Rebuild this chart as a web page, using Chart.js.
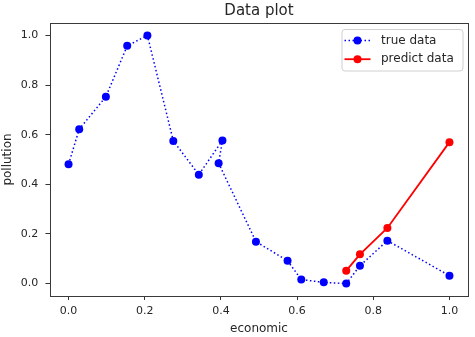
<!DOCTYPE html>
<html>
<head>
<meta charset="utf-8">
<script src="https://cdn.jsdelivr.net/npm/chart.js@4"></script>
<style>
  html, body { margin: 0; padding: 0; background: #ffffff; }
  #wrap { width: 475px; height: 337px; }
</style>
</head>
<body>
<div id="wrap"><canvas id="plot" width="475" height="337"></canvas></div>
<script>
// Observed samples (normalised economic vs pollution)
const economicTrue  = [0, 0.028, 0.098, 0.154, 0.207, 0.275, 0.342, 0.404, 0.394, 0.492, 0.575, 0.611, 0.670, 0.729, 0.765, 0.837, 1.0];
const pollutionTrue = [0.481, 0.622, 0.753, 0.958, 1.0, 0.575, 0.439, 0.577, 0.485, 0.169, 0.092, 0.016, 0.005, 0.0, 0.072, 0.173, 0.032];

// Model output over the last part of the range
const economicPredict  = [0.729, 0.765, 0.837, 1.0];
const pollutionPredict = [0.052, 0.118, 0.224, 0.570];

const xTickValues = [0, 0.2, 0.4, 0.6, 0.8, 1.0];
const yTickValues = [0, 0.2, 0.4, 0.6, 0.8, 1.0];

const titleText = 'Data plot';
const xLabel = 'economic';
const yLabel = 'pollution';

const FONT = '"DejaVu Sans", Verdana, sans-serif';
const TEXT = '#262626';

const toPoints = (xs, ys) => xs.map((x, i) => ({ x, y: ys[i] }));

// Frame, title and legend drawn in matplotlib style
const decorations = {
  id: 'decorations',
  afterDatasetsDraw(chart) {
    const { ctx, chartArea: a } = chart;
    ctx.save();
    // axes box
    ctx.strokeStyle = '#3a3a3a';
    ctx.lineWidth = 1;
    ctx.strokeRect(Math.round(a.left) + 0.5, Math.round(a.top) + 0.5,
                   Math.round(a.right - a.left) - 1, Math.round(a.bottom - a.top));
    // title
    ctx.fillStyle = TEXT;
    ctx.font = '15px ' + FONT;
    ctx.textAlign = 'center';
    ctx.textBaseline = 'middle';
    ctx.fillText(titleText, (a.left + a.right) / 2, 11);

    // legend
    const w = 121, h = 41.5;
    const x0 = a.right - 6 - w, y0 = a.top + 6;
    ctx.beginPath();
    ctx.roundRect(x0 + 0.5, y0 + 0.5, w, h, 3);
    ctx.fillStyle = 'rgba(255,255,255,0.8)';
    ctx.fill();
    ctx.strokeStyle = '#d0d0d0';
    ctx.stroke();
    chart.data.datasets.forEach((ds, i) => {
      const cy = y0 + 11.5 + i * 18.7;
      const hx0 = x0 + 3, hx1 = x0 + 29;
      ctx.beginPath();
      ctx.setLineDash(ds.borderDash || []);
      ctx.lineWidth = ds.borderWidth;
      ctx.strokeStyle = ds.borderColor;
      ctx.moveTo(hx0, cy);
      ctx.lineTo(hx1, cy);
      ctx.stroke();
      ctx.setLineDash([]);
      ctx.beginPath();
      ctx.arc((hx0 + hx1) / 2, cy, ds.pointRadius, 0, Math.PI * 2);
      ctx.fillStyle = ds.pointBackgroundColor;
      ctx.fill();
      ctx.fillStyle = TEXT;
      ctx.font = '12px ' + FONT;
      ctx.textAlign = 'left';
      ctx.textBaseline = 'middle';
      ctx.fillText(ds.label, x0 + 39.5, cy);
    });
    ctx.restore();
  }
};

new Chart(document.getElementById('plot'), {
  type: 'scatter',
  data: {
    datasets: [
      {
        label: 'true data',
        data: toPoints(economicTrue, pollutionTrue),
        showLine: true,
        borderColor: '#0000ff',
        borderWidth: 1.5,
        borderDash: [1.5, 2.5],
        pointRadius: 4,
        pointBorderWidth: 0,
        pointBackgroundColor: '#0000ff',
        pointBorderColor: '#0000ff',
        order: 1
      },
      {
        label: 'predict data',
        data: toPoints(economicPredict, pollutionPredict),
        showLine: true,
        borderColor: '#ff0000',
        borderWidth: 1.8,
        pointRadius: 4,
        pointBorderWidth: 0,
        pointBackgroundColor: '#ff0000',
        pointBorderColor: '#ff0000',
        order: 0
      }
    ]
  },
  options: {
    responsive: false,
    animation: false,
    devicePixelRatio: 1,
    layout: { padding: { left: 0, right: 6.5, top: 23, bottom: 0 } },
    plugins: {
      legend: { display: false },
      title: { display: false },
      tooltip: { enabled: false }
    },
    scales: {
      x: {
        type: 'linear',
        min: -0.05,
        max: 1.05,
        afterBuildTicks: axis => { axis.ticks = xTickValues.map(v => ({ value: v })); },
        afterFit: axis => { axis.height = 41; },
        border: { display: false },
        grid: { display: true, drawOnChartArea: false, drawTicks: true, tickLength: 4, color: '#333333', lineWidth: 1 },
        ticks: {
          padding: 4.5,
          color: TEXT,
          font: { family: FONT, size: 11 },
          maxRotation: 0,
          callback: v => Number(v).toFixed(1)
        },
        title: {
          display: true,
          text: xLabel,
          color: TEXT,
          font: { family: FONT, size: 12 },
          padding: { top: 0, bottom: 1 }
        }
      },
      y: {
        type: 'linear',
        min: -0.05,
        max: 1.05,
        afterBuildTicks: axis => { axis.ticks = yTickValues.map(v => ({ value: v })); },
        afterFit: axis => { axis.width = 49.5; },
        border: { display: false },
        grid: { display: true, drawOnChartArea: false, drawTicks: true, tickLength: 4, color: '#333333', lineWidth: 1 },
        ticks: {
          padding: 7.3,
          color: TEXT,
          font: { family: FONT, size: 11 },
          callback: v => Number(v).toFixed(1)
        },
        title: {
          display: true,
          text: yLabel,
          color: TEXT,
          font: { family: FONT, size: 12 },
          padding: { top: 1, bottom: 0 }
        }
      }
    }
  },
  plugins: [decorations]
});
</script>
</body>
</html>
